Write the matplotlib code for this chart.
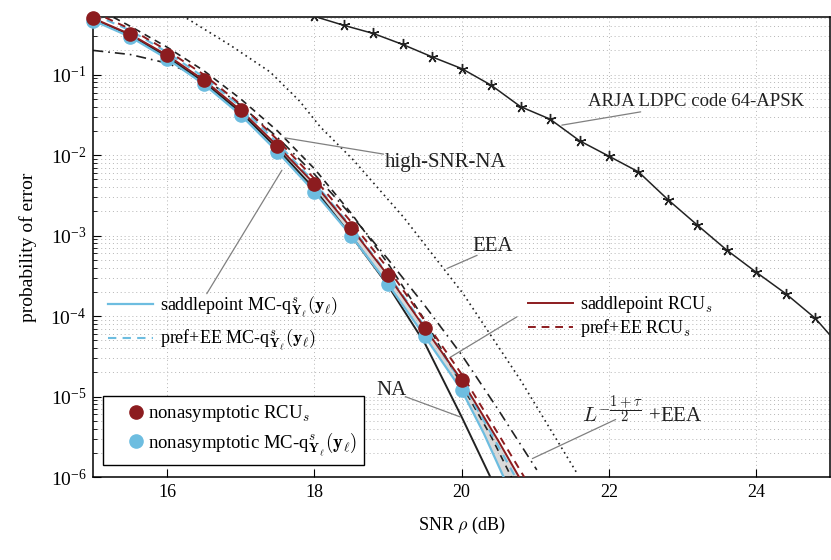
import numpy as np
import matplotlib
matplotlib.use("Agg")
import matplotlib.pyplot as plt

plt.rcParams['font.family'] = ['Liberation Serif', 'DejaVu Serif']
plt.rcParams['mathtext.fontset'] = 'cm'

# SNR grids (dB)
snr_half = [15, 15.5, 16, 16.5, 17, 17.5, 18, 18.5, 19, 19.5, 20]

# nonasymptotic markers
rcu_mark = [0.5, 0.32, 0.175, 0.0855, 0.0362, 0.013, 4.4e-3, 1.25e-3, 3.2e-4, 7.1e-5, 1.6e-5]
mc_mark = [0.47, 0.295, 0.158, 0.076, 0.0316, 0.011, 3.5e-3, 1.0e-3, 2.5e-4, 5.6e-5, 1.2e-5]

# saddlepoint / pref+EE curves
snr_rcu = [15, 15.5, 16, 16.5, 17, 17.5, 18, 18.5, 19, 19.5, 20, 20.5, 20.78]
sp_rcu = [0.5, 0.318, 0.175, 0.0855, 0.0362, 0.013, 4.4e-3, 1.25e-3, 3.2e-4, 7.1e-5, 1.6e-5, 2.8e-6, 1.0e-6]
snr_rcu_ee = [15, 15.5, 16, 16.5, 17, 17.5, 18, 18.5, 19, 19.5, 20, 20.5, 20.85]
ee_rcu = [0.6, 0.37, 0.2, 0.1, 0.0427, 0.0155, 5.1e-3, 1.48e-3, 3.9e-4, 8.7e-5, 1.9e-5, 3.4e-6, 1.0e-6]

snr_mc = [15, 15.5, 16, 16.5, 17, 17.5, 18, 18.5, 19, 19.5, 20, 20.3, 20.57]
sp_mc = [0.47, 0.295, 0.158, 0.076, 0.0316, 0.011, 3.5e-3, 1.0e-3, 2.5e-4, 5.6e-5, 1.2e-5, 3.5e-6, 1.0e-6]
snr_mc_ee = [15, 15.5, 16, 16.5, 17, 17.5, 18, 18.5, 19, 19.5, 20, 20.4, 20.73]
ee_mc = [0.56, 0.355, 0.19, 0.093, 0.04, 0.0141, 4.6e-3, 1.29e-3, 3.3e-4, 7.4e-5, 1.5e-5, 3.5e-6, 1.0e-6]

# normal approximation and variants
snr_na = [15, 15.5, 16, 16.5, 17, 17.5, 18, 18.5, 19, 19.5, 20, 20.39]
na = [0.49, 0.31, 0.166, 0.081, 0.034, 0.012, 3.8e-3, 1.0e-3, 2.4e-4, 4.6e-5, 5.6e-6, 1.0e-6]

snr_hna = [15, 15.5, 16, 16.5, 17, 17.5, 18, 18.5, 19, 19.5, 20, 20.4, 20.7]
high_na = [0.7, 0.4, 0.22, 0.112, 0.05, 0.02, 6.8e-3, 1.9e-3, 4.5e-4, 8.9e-5, 1.4e-5, 3.2e-6, 0.9e-6]

snr_lt = [15, 15.5, 16, 16.5, 17, 17.5, 18, 18.5, 19, 19.5, 20, 20.5, 21.02]
l_eea = [0.2, 0.178, 0.139, 0.091, 0.0417, 0.0166, 5.8e-3, 1.8e-3, 5.1e-4, 1.35e-4, 3.3e-5, 6.8e-6, 1.23e-6]

snr_eea = [16.27, 16.85, 17.4, 17.8, 18.08, 18.53, 19.21, 20.02, 20.8, 21.57]
eea = [0.5, 0.235, 0.108, 0.047, 0.0225, 8.7e-3, 1.7e-3, 1.9e-4, 1.6e-5, 1.1e-6]

# ARJA LDPC simulation
snr_ldpc = [18.0, 18.4, 18.8, 19.2, 19.6, 20.0, 20.4, 20.8, 21.2, 21.6, 22.0, 22.4, 22.8, 23.2, 23.6, 24.0, 24.4, 24.8, 25.2]
ldpc = [0.53, 0.41, 0.325, 0.237, 0.166, 0.119, 0.074, 0.040, 0.028, 0.0151, 9.7e-3, 6.2e-3, 2.8e-3, 1.35e-3, 6.6e-4, 3.5e-4, 1.9e-4, 9.4e-5, 3.6e-5]

red = '#8c1c1f'
blue = '#6dbde0'
txt = '#222222'
ptr = '#808080'

fig = plt.figure(figsize=(8.31, 5.60), dpi=100)
ax = fig.add_axes([0.1123, 0.148, 0.8865, 0.8216])
ax.set_yscale('log')
ax.set_xlim(15, 25)
ax.set_ylim(1e-6, 0.52)

ax.grid(True, which='major', linestyle=(0, (1, 3)), color='#b5b5b5', linewidth=0.7)
ax.grid(True, which='minor', axis='y', linestyle=(0, (1, 3)), color='#b5b5b5', linewidth=0.7)

# shaded band between the two saddlepoint curves
ax.fill(list(snr_mc) + list(snr_rcu)[::-1], list(sp_mc) + list(sp_rcu)[::-1],
        color='#d9d9d9', zorder=1, lw=0)

ax.plot(snr_eea, eea, color=txt, lw=1.2, linestyle=(0, (1, 2.2)), zorder=2)
ax.plot(snr_lt, l_eea, color=txt, lw=1.2, linestyle=(0, (6, 3, 1, 3)), zorder=2)
ax.plot(snr_hna, high_na, color=txt, lw=1.2, linestyle=(0, (4, 3)), zorder=2)
ax.plot(snr_na, na, color=txt, lw=1.4, zorder=3)
l_sp_mc, = ax.plot(snr_mc, sp_mc, color=blue, lw=1.6, zorder=3)
l_ee_mc, = ax.plot(snr_mc_ee, ee_mc, color=blue, lw=1.5, linestyle=(0, (4, 3)), zorder=3)
l_sp_rcu, = ax.plot(snr_rcu, sp_rcu, color=red, lw=1.4, zorder=4)
l_ee_rcu, = ax.plot(snr_rcu_ee, ee_rcu, color=red, lw=1.4, linestyle=(0, (4, 3)), zorder=4)

ax.plot(snr_ldpc, ldpc, color=txt, lw=1.1, marker=(5, 2, 0), markersize=8,
        markeredgewidth=1.0, zorder=3)

m_mc, = ax.plot(snr_half, mc_mark, linestyle='none', marker='o', markersize=9.5,
                color=blue, clip_on=False, zorder=5)
m_rcu, = ax.plot(snr_half, rcu_mark, linestyle='none', marker='o', markersize=9.5,
                 color=red, clip_on=False, zorder=6)

ax.tick_params(which='both', direction='in')
ax.tick_params(axis='x', labelsize=13, pad=5)
ax.tick_params(axis='y', labelsize=14, pad=5)
ax.tick_params(which='major', length=6)
ax.tick_params(which='minor', length=3)
ax.set_xticks([16, 18, 20, 22, 24])
ax.set_yticks([1e-6, 1e-5, 1e-4, 1e-3, 1e-2, 1e-1])
ax.set_xlabel(r'SNR $\rho$ (dB)', fontsize=13, labelpad=10)
ax.set_ylabel('probability of error', fontsize=14, labelpad=10)
for s in ax.spines.values():
    s.set_linewidth(1.1)

mc_lbl = r'MC-q$^{s}_{\mathbf{Y}_\ell}(\mathbf{y}_\ell)$'
leg1 = ax.legend([l_sp_mc, l_ee_mc], ['saddlepoint ' + mc_lbl, 'pref+EE ' + mc_lbl],
                 loc='upper left', bbox_to_anchor=(0.01, 0.413), frameon=False,
                 fontsize=13, handlelength=2.5, handletextpad=0.4,
                 labelspacing=0.45, borderaxespad=0)
ax.add_artist(leg1)
leg2 = ax.legend([l_sp_rcu, l_ee_rcu], [r'saddlepoint RCU$_s$', r'pref+EE RCU$_s$'],
                 loc='upper left', bbox_to_anchor=(0.58, 0.413), frameon=False,
                 fontsize=13, handlelength=2.5, handletextpad=0.4,
                 labelspacing=0.12, borderaxespad=0)
ax.add_artist(leg2)
leg3 = ax.legend([m_rcu, m_mc], [r'nonasymptotic RCU$_s$', 'nonasymptotic ' + mc_lbl],
                 loc='lower left', bbox_to_anchor=(0.013, 0.026), frameon=True,
                 fancybox=False, edgecolor='black', framealpha=1, fontsize=13.5,
                 handlelength=2.75, handletextpad=-0.75, labelspacing=0.3,
                 borderaxespad=0)
leg3.get_frame().set_linewidth(1.0)
leg3.set_zorder(10)

# labels with pointer lines
def pointer(start, end):
    ax.annotate('', xy=end, xytext=start,
                arrowprops=dict(arrowstyle='-', color=ptr, lw=0.9, shrinkA=0, shrinkB=0),
                zorder=7)

pointer((18.94, 0.0103), (17.60, 0.0164))
ax.text(18.96, 8.1e-3, 'high-SNR-NA', fontsize=15, va='center', ha='left', color=txt)

pointer((17.56, 6.5e-3), (16.54, 1.9e-4))
pointer((20.75, 9.8e-5), (19.85, 3.1e-5))

pointer((20.21, 5.7e-4), (19.80, 3.9e-4))
ax.text(20.15, 7.4e-4, 'EEA', fontsize=15, va='center', ha='left', color=txt)

pointer((19.235, 1.0e-5), (19.98, 5.6e-6))
ax.text(18.84, 1.18e-5, 'NA', fontsize=15, va='center', ha='left', color=txt)

pointer((22.09, 5.2e-6), (20.96, 1.7e-6))
ax.text(21.63, 6.8e-6, r'$L^{-\dfrac{1+\tau}{2}}$ +EEA', fontsize=15, va='center', ha='left',
        color=txt)

pointer((22.43, 0.0345), (21.36, 0.0236))
ax.text(21.72, 0.0466, 'ARJA LDPC code 64-APSK', fontsize=13.5, va='center', ha='left',
        color=txt)

fig.savefig('out.png', dpi=100)
